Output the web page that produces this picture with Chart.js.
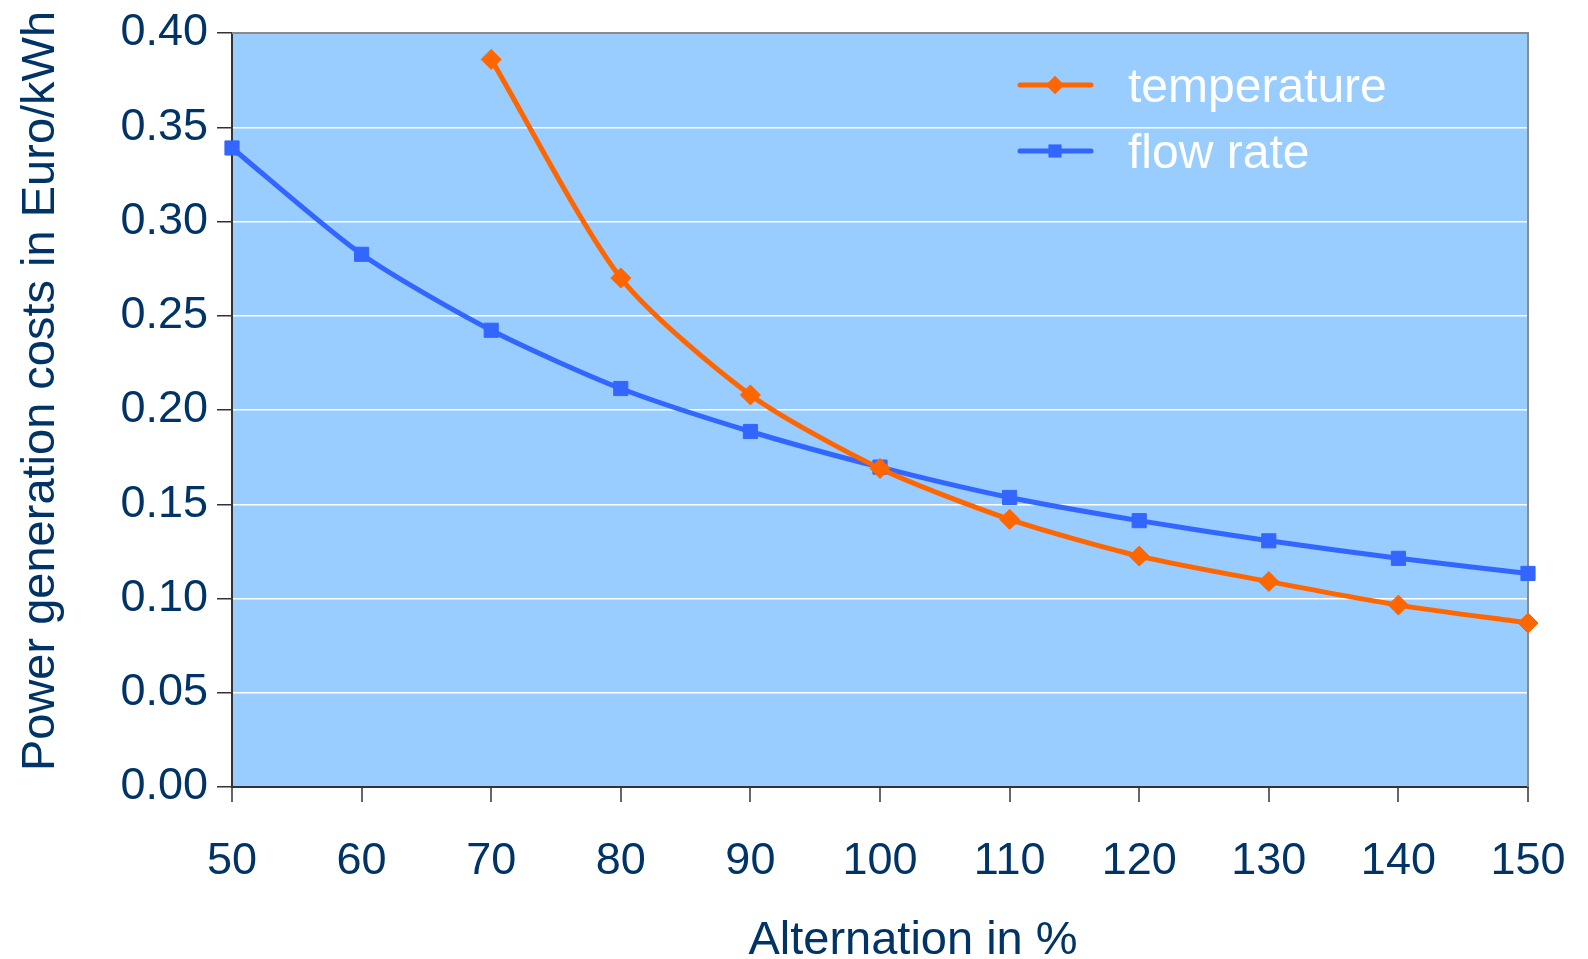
<!DOCTYPE html>
<html>
<head>
<meta charset="utf-8">
<script src="https://cdn.jsdelivr.net/npm/chart.js@4.4.1/dist/chart.umd.min.js"></script>
<style>
  html, body { margin: 0; padding: 0; background: #fff; }
  #wrap { width: 1588px; height: 959px; }
</style>
</head>
<body>
<div id="wrap"><canvas id="chart" width="1588" height="959"></canvas></div>
<script>
// values
const alternation = [50, 60, 70, 80, 90, 100, 110, 120, 130, 140, 150];
const temperature = [null, null, 0.386, 0.270, 0.208, 0.169, 0.142, 0.1225, 0.109, 0.0965, 0.087];
const flowRate = [0.339, 0.2826, 0.2423, 0.2114, 0.1886, 0.1697, 0.1536, 0.1413, 0.1306, 0.1213, 0.1133];
const seriesNames = ['temperature', 'flow rate'];
const xTitle = 'Alternation in %';
const yTitle = 'Power generation costs in Euro/kWh';

const TEXT = '#003366';
const FONT = '"Liberation Sans", Arial, sans-serif';

function pts(vals){ return alternation.map((x,i)=>({x:x, y:vals[i]})); }

// plot background + frame
const areaBg = {
  id: 'areaBg',
  beforeDraw(chart){
    const a = chart.chartArea, ctx = chart.ctx;
    ctx.save(); ctx.fillStyle = '#99CCFF';
    ctx.fillRect(a.left, a.top, a.right-a.left, a.bottom-a.top);
    ctx.restore();
  },
  beforeDatasetsDraw(chart){
    const a = chart.chartArea, ctx = chart.ctx;
    ctx.save(); ctx.strokeStyle = '#8a8a8a'; ctx.lineWidth = 2;
    ctx.beginPath(); ctx.moveTo(a.left, a.top); ctx.lineTo(a.right, a.top); ctx.lineTo(a.right, a.bottom); ctx.stroke();
    ctx.restore();
  }
};

// legend drawn inside the plot, top right
const innerLegend = {
  id: 'innerLegend',
  afterDatasetsDraw(chart){
    const ctx = chart.ctx;
    chart.data.datasets.forEach((ds,i)=>{
      const y = 85 + i*66;
      ctx.save();
      ctx.strokeStyle = ds.borderColor; ctx.lineWidth = 5; ctx.lineCap = 'round';
      ctx.beginPath(); ctx.moveTo(1020, y); ctx.lineTo(1091, y); ctx.stroke();
      ctx.fillStyle = ds.borderColor;
      Chart.helpers.drawPoint(ctx, {pointStyle: ds.pointStyle, radius: 9, borderWidth: 0}, 1055, y);
      ctx.fill();
      ctx.fillStyle = '#fff'; ctx.font = '48px ' + FONT; ctx.textBaseline = 'alphabetic';
      ctx.fillText(ds.label, 1128, y + 17);
      ctx.restore();
    });
  }
};

// axis titles
const axisTitles = {
  id: 'axisTitles',
  afterDraw(chart){
    const ctx = chart.ctx;
    ctx.save();
    ctx.fillStyle = TEXT; ctx.font = '47px ' + FONT; ctx.textAlign = 'center';
    ctx.textBaseline = 'alphabetic';
    ctx.fillText(xTitle, 913, 954);
    ctx.translate(54, 391); ctx.rotate(-Math.PI/2);
    ctx.fillText(yTitle, 0, 0);
    ctx.restore();
  }
};

new Chart(document.getElementById('chart'), {
  type: 'line',
  data: {
    datasets: [
      { label: seriesNames[0], data: pts(temperature), borderColor: '#FF6600', backgroundColor: '#FF6600',
        borderWidth: 5, pointStyle: 'rectRot', pointRadius: 10, pointBorderWidth: 1, tension: 0.25, clip: false },
      { label: seriesNames[1], data: pts(flowRate), borderColor: '#3366FF', backgroundColor: '#3366FF',
        borderWidth: 5, pointStyle: 'rect', pointRadius: 10, pointBorderWidth: 1, tension: 0.25, clip: false }
    ]
  },
  options: {
    responsive: false, animation: false,
    layout: { padding: { top: 33, right: 60, left: 0, bottom: 0 } },
    plugins: { legend: { display: false }, tooltip: { enabled: false } },
    scales: {
      x: {
        type: 'linear', min: 50, max: 150,
        afterFit(s){ s.height = 172; s.paddingLeft = 0; s.paddingRight = 0; },
        ticks: { stepSize: 10, color: TEXT, font: { family: FONT, size: 45 }, padding: 33, maxRotation: 0 },
        grid: { drawOnChartArea: false, tickLength: 15, tickColor: '#666', lineWidth: 2 },
        border: { color: '#333', width: 2 }
      },
      y: {
        min: 0, max: 0.4,
        afterFit(s){ s.width = 232; s.paddingTop = 0; s.paddingBottom = 0; },
        ticks: { stepSize: 0.05, color: TEXT, font: { family: FONT, size: 45 }, padding: 9,
                 callback: v => v.toFixed(2) },
        grid: { color: '#fff', lineWidth: 1.5, tickLength: 15, tickColor: '#333' },
        border: { color: '#333', width: 2 }
      }
    }
  },
  plugins: [areaBg, innerLegend, axisTitles]
});
</script>
</body>
</html>
